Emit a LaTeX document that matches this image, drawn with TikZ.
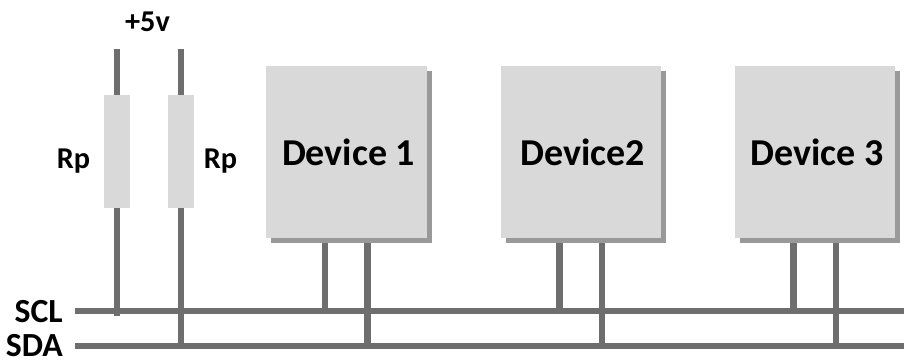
\documentclass[tikz,border=0pt]{standalone}
\usepackage{fontspec}
\setmainfont{Carlito}
\usetikzlibrary{shadows}
\definecolor{wireC}{HTML}{6E6E6E}
\definecolor{bodyC}{HTML}{D9D9D9}
\definecolor{shadeC}{HTML}{999999}
\tikzset{
    wire/.style={color=wireC,line width=4.3pt},
    device/.style={fill=bodyC,minimum width=4.02cm,minimum height=4.3cm,inner sep=0pt,font=\fontsize{27}{27}\selectfont\bfseries,
        drop shadow={shadow xshift=0.125cm,shadow yshift=-0.125cm,fill=shadeC,opacity=1}},
    resistor/.style={fill=bodyC,minimum width=0.65cm,minimum height=2.825cm,inner sep=0pt},
    tag/.style={font=\fontsize{21.5}{22}\selectfont\bfseries,inner sep=0pt},
    bus tag/.style={font=\fontsize{24}{24}\selectfont\bfseries,inner sep=0pt,anchor=east}
}
\begin{document}
\begin{tikzpicture}[x=0.025cm,y=-0.025cm]
    \useasboundingbox (0,0) rectangle (904,360);

    % draw bus lines
    \coordinate (sclL) at (75,311);
    \coordinate (sclR) at (904,311);
    \coordinate (sdaL) at (75,346);
    \coordinate (sdaR) at (904,346);
    \draw[wire] (sclL) -- (sclR);
    \draw[wire] (sdaL) -- (sdaR);
    \node[bus tag] (scl) at (63,312) {SCL};
    \node[bus tag] (sda) at (63,346) {SDA};

    % draw pull-up resistors
    \coordinate (topA) at (117,49);
    \coordinate (topB) at (181,49);
    \coordinate (endA) at (117,316);
    \coordinate (endB) at (181,346);
    \draw[wire] (topA) -- (endA);
    \draw[wire] (topB) -- (endB);
    \node[resistor] (rpA) at (117,151.5) {};
    \node[resistor] (rpB) at (181,151.5) {};
    \node[tag] (rpAl) at (73.5,161) {Rp};
    \node[tag] (rpBl) at (220.5,161) {Rp};
    \node[tag] (vcc) at (147.5,22) {+5v};

    % draw devices
    \foreach \n/\x/\lab in {1/346.5/Device 1,2/581/Device2,3/815/Device 3}{
        \coordinate (clk\n) at (\x-21.5,311);
        \coordinate (dat\n) at (\x+21,346);
        \draw[wire] (\x-21.5,238) -- (clk\n);
        \draw[wire] (\x+21,238) -- (dat\n);
        \node[device] (dev\n) at (\x,152) {\hspace*{0.1cm}\lab};
    }
\end{tikzpicture}
\end{document}
